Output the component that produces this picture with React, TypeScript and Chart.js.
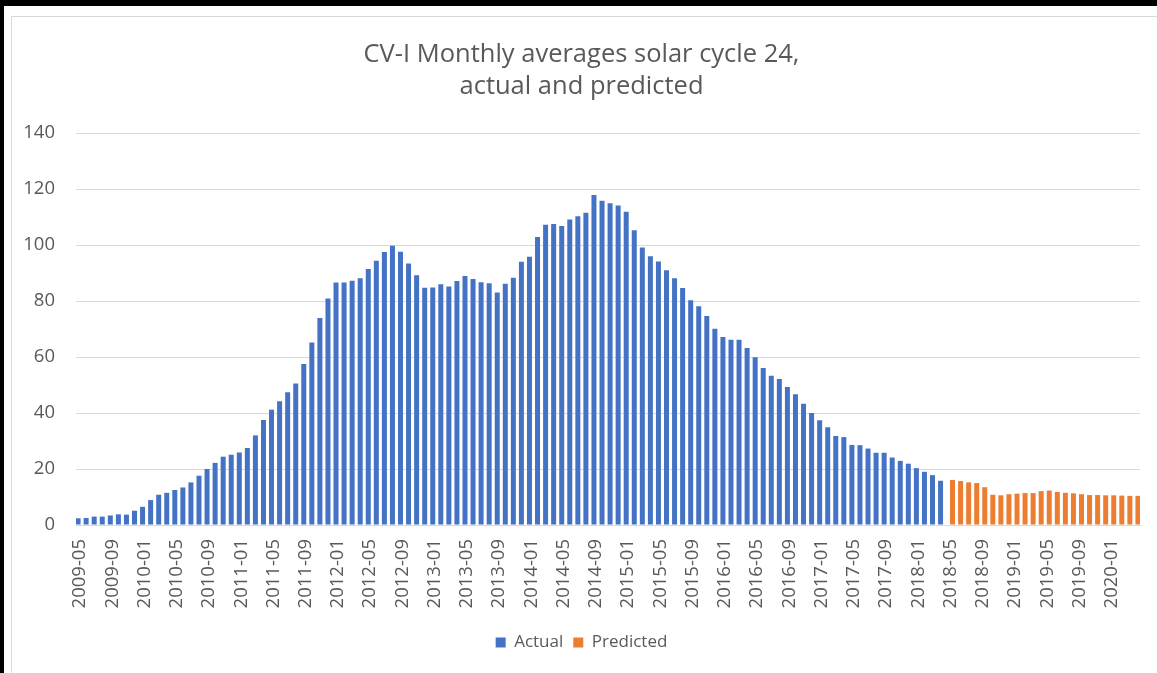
import React, { useEffect, useRef } from "react";
import { Chart, registerables } from "chart.js";

Chart.register(...registerables);

const START_YEAR = 2009;
const START_MONTH = 5;
const MONTH_COUNT = 132;

const ACTUAL = [
  2.4, 2.5, 3.0, 3.0, 3.4, 3.8, 3.7, 5.1, 6.5, 8.9, 10.8, 11.5, 12.5, 13.4, 15.2, 17.6,
  20.0, 22.2, 24.4, 25.1, 25.9, 27.5, 32.0, 37.5, 41.2, 44.2, 47.4, 50.5, 57.5, 65.2,
  73.9, 80.9, 86.6, 86.6, 87.2,
  88.1, 91.4, 94.4, 97.5, 99.7, 97.6, 93.4, 89.2, 84.7, 84.8, 86.0, 85.2, 87.1, 88.9,
  87.9, 86.7, 86.3, 83.0, 86.2, 88.3, 94.0, 95.8, 102.9, 107.2, 107.5, 106.8, 109.1,
  110.3, 111.5, 117.9, 115.8, 114.9, 114.1, 111.9, 105.3, 99.1, 96.0,
  94.1, 91.0, 88.1, 84.6, 80.3, 78.1, 74.6, 70.1, 67.1, 66.2, 66.2, 63.2, 59.9, 56.1,
  53.3, 52.1, 49.3, 46.7, 43.3, 40.0, 37.4, 34.9, 31.8, 31.4, 28.6, 28.5, 27.3, 25.8,
  25.8, 24.1, 22.9, 21.9, 20.3, 19.0, 17.8, 15.8,
];

const PREDICTED = [
  16.1, 15.7, 15.2, 15.0, 13.5, 10.8, 10.6, 11.0, 11.2, 11.4, 11.4, 12.1, 12.3, 11.8,
  11.5, 11.3, 11.0, 10.7, 10.7, 10.6, 10.6, 10.5, 10.4, 10.4,
];

const MONTHS: string[] = [];
for (let i = 0; i < MONTH_COUNT; i++) {
  const m0 = START_MONTH - 1 + i;
  const y = START_YEAR + Math.floor(m0 / 12);
  const m = (m0 % 12) + 1;
  MONTHS.push(`${y}-${m < 10 ? "0" + m : m}`);
}

const TITLE_LINES = ["CV-I Monthly averages solar cycle 24,", "actual and predicted"];
const Y_TICKS = [0, 20, 40, 60, 80, 100, 120, 140];
const SERIES_NAMES = ["Actual", "Predicted"];

const FONT = "'Open Sans', 'Liberation Sans', sans-serif";
const TEXT = "#595959";

export default function App() {
  const ref = useRef<HTMLCanvasElement | null>(null);

  useEffect(() => {
    if (!ref.current) return;
    const actualData = [...ACTUAL, ...PREDICTED.map(() => null)];
    const predictedData = [...ACTUAL.map(() => null), ...PREDICTED];
    const chart = new Chart(ref.current, {
      type: "bar",
      data: {
        labels: MONTHS,
        datasets: [
          {
            label: SERIES_NAMES[0],
            data: actualData,
            backgroundColor: "#4472C4",
            categoryPercentage: 0.968,
            barPercentage: 1.28,
          },
          {
            label: SERIES_NAMES[1],
            data: predictedData,
            backgroundColor: "#ED7D31",
            categoryPercentage: 0.968,
            barPercentage: 1.28,
          },
        ],
      },
      options: {
        responsive: false,
        animation: false,
        devicePixelRatio: 1,
        layout: { padding: { left: 6, right: 0, top: 0, bottom: 12 } },
        plugins: {
          title: {
            display: true,
            text: TITLE_LINES,
            color: TEXT,
            font: { family: FONT, size: 25.5, weight: "normal", lineHeight: 1.255 },
            padding: { top: 39, bottom: 30 },
          },
          legend: {
            position: "bottom",
            labels: {
              color: TEXT,
              font: { family: FONT, size: 17 },
              boxWidth: 10,
              boxHeight: 10,
              padding: 10,
            },
          },
          tooltip: { enabled: false },
        },
        scales: {
          x: {
            grid: { display: false, drawTicks: false },
            border: { display: true, color: "#d9d9d9", width: 1 },
            ticks: {
              autoSkip: false,
              minRotation: 90,
              maxRotation: 90,
              padding: 14,
              color: TEXT,
              font: { family: FONT, size: 18.5 },
              callback: (_v: any, i: number) => (i % 4 === 0 ? MONTHS[i] : ""),
            },
            afterFit: (s: any) => {
              s.height = 99;
              s.paddingLeft = 0;
              s.paddingRight = 17;
            },
          },
          y: {
            min: 0,
            max: 140,
            grid: { color: "#d9d9d9", lineWidth: 1, drawTicks: false },
            border: { display: false },
            afterBuildTicks: (s: any) => {
              s.ticks = Y_TICKS.map((v) => ({ value: v }));
            },
            ticks: {
              padding: 21,
              color: TEXT,
              font: { family: FONT, size: 18.5 },
            },
            afterFit: (s: any) => {
              s.width = 70;
            },
          },
        },
      },
    });
    return () => chart.destroy();
  }, []);

  return (
    <div
      style={{
        position: "absolute",
        left: 0,
        top: 0,
        width: 1157,
        height: 673,
        background: "#fff",
        overflow: "hidden",
      }}
    >
      <canvas ref={ref} width={1157} height={673} style={{ position: "absolute", left: 0, top: 0 }} />
      <div style={{ position: "absolute", left: 11, top: 16, right: 0, height: 1, background: "#d9d9d9" }} />
      <div style={{ position: "absolute", left: 11, top: 16, bottom: 0, width: 1, background: "#d9d9d9" }} />
      <div style={{ position: "absolute", left: 0, top: 0, right: 0, height: 6, background: "#000" }} />
      <div style={{ position: "absolute", left: 0, top: 0, bottom: 0, width: 4, background: "#000" }} />
    </div>
  );
}
